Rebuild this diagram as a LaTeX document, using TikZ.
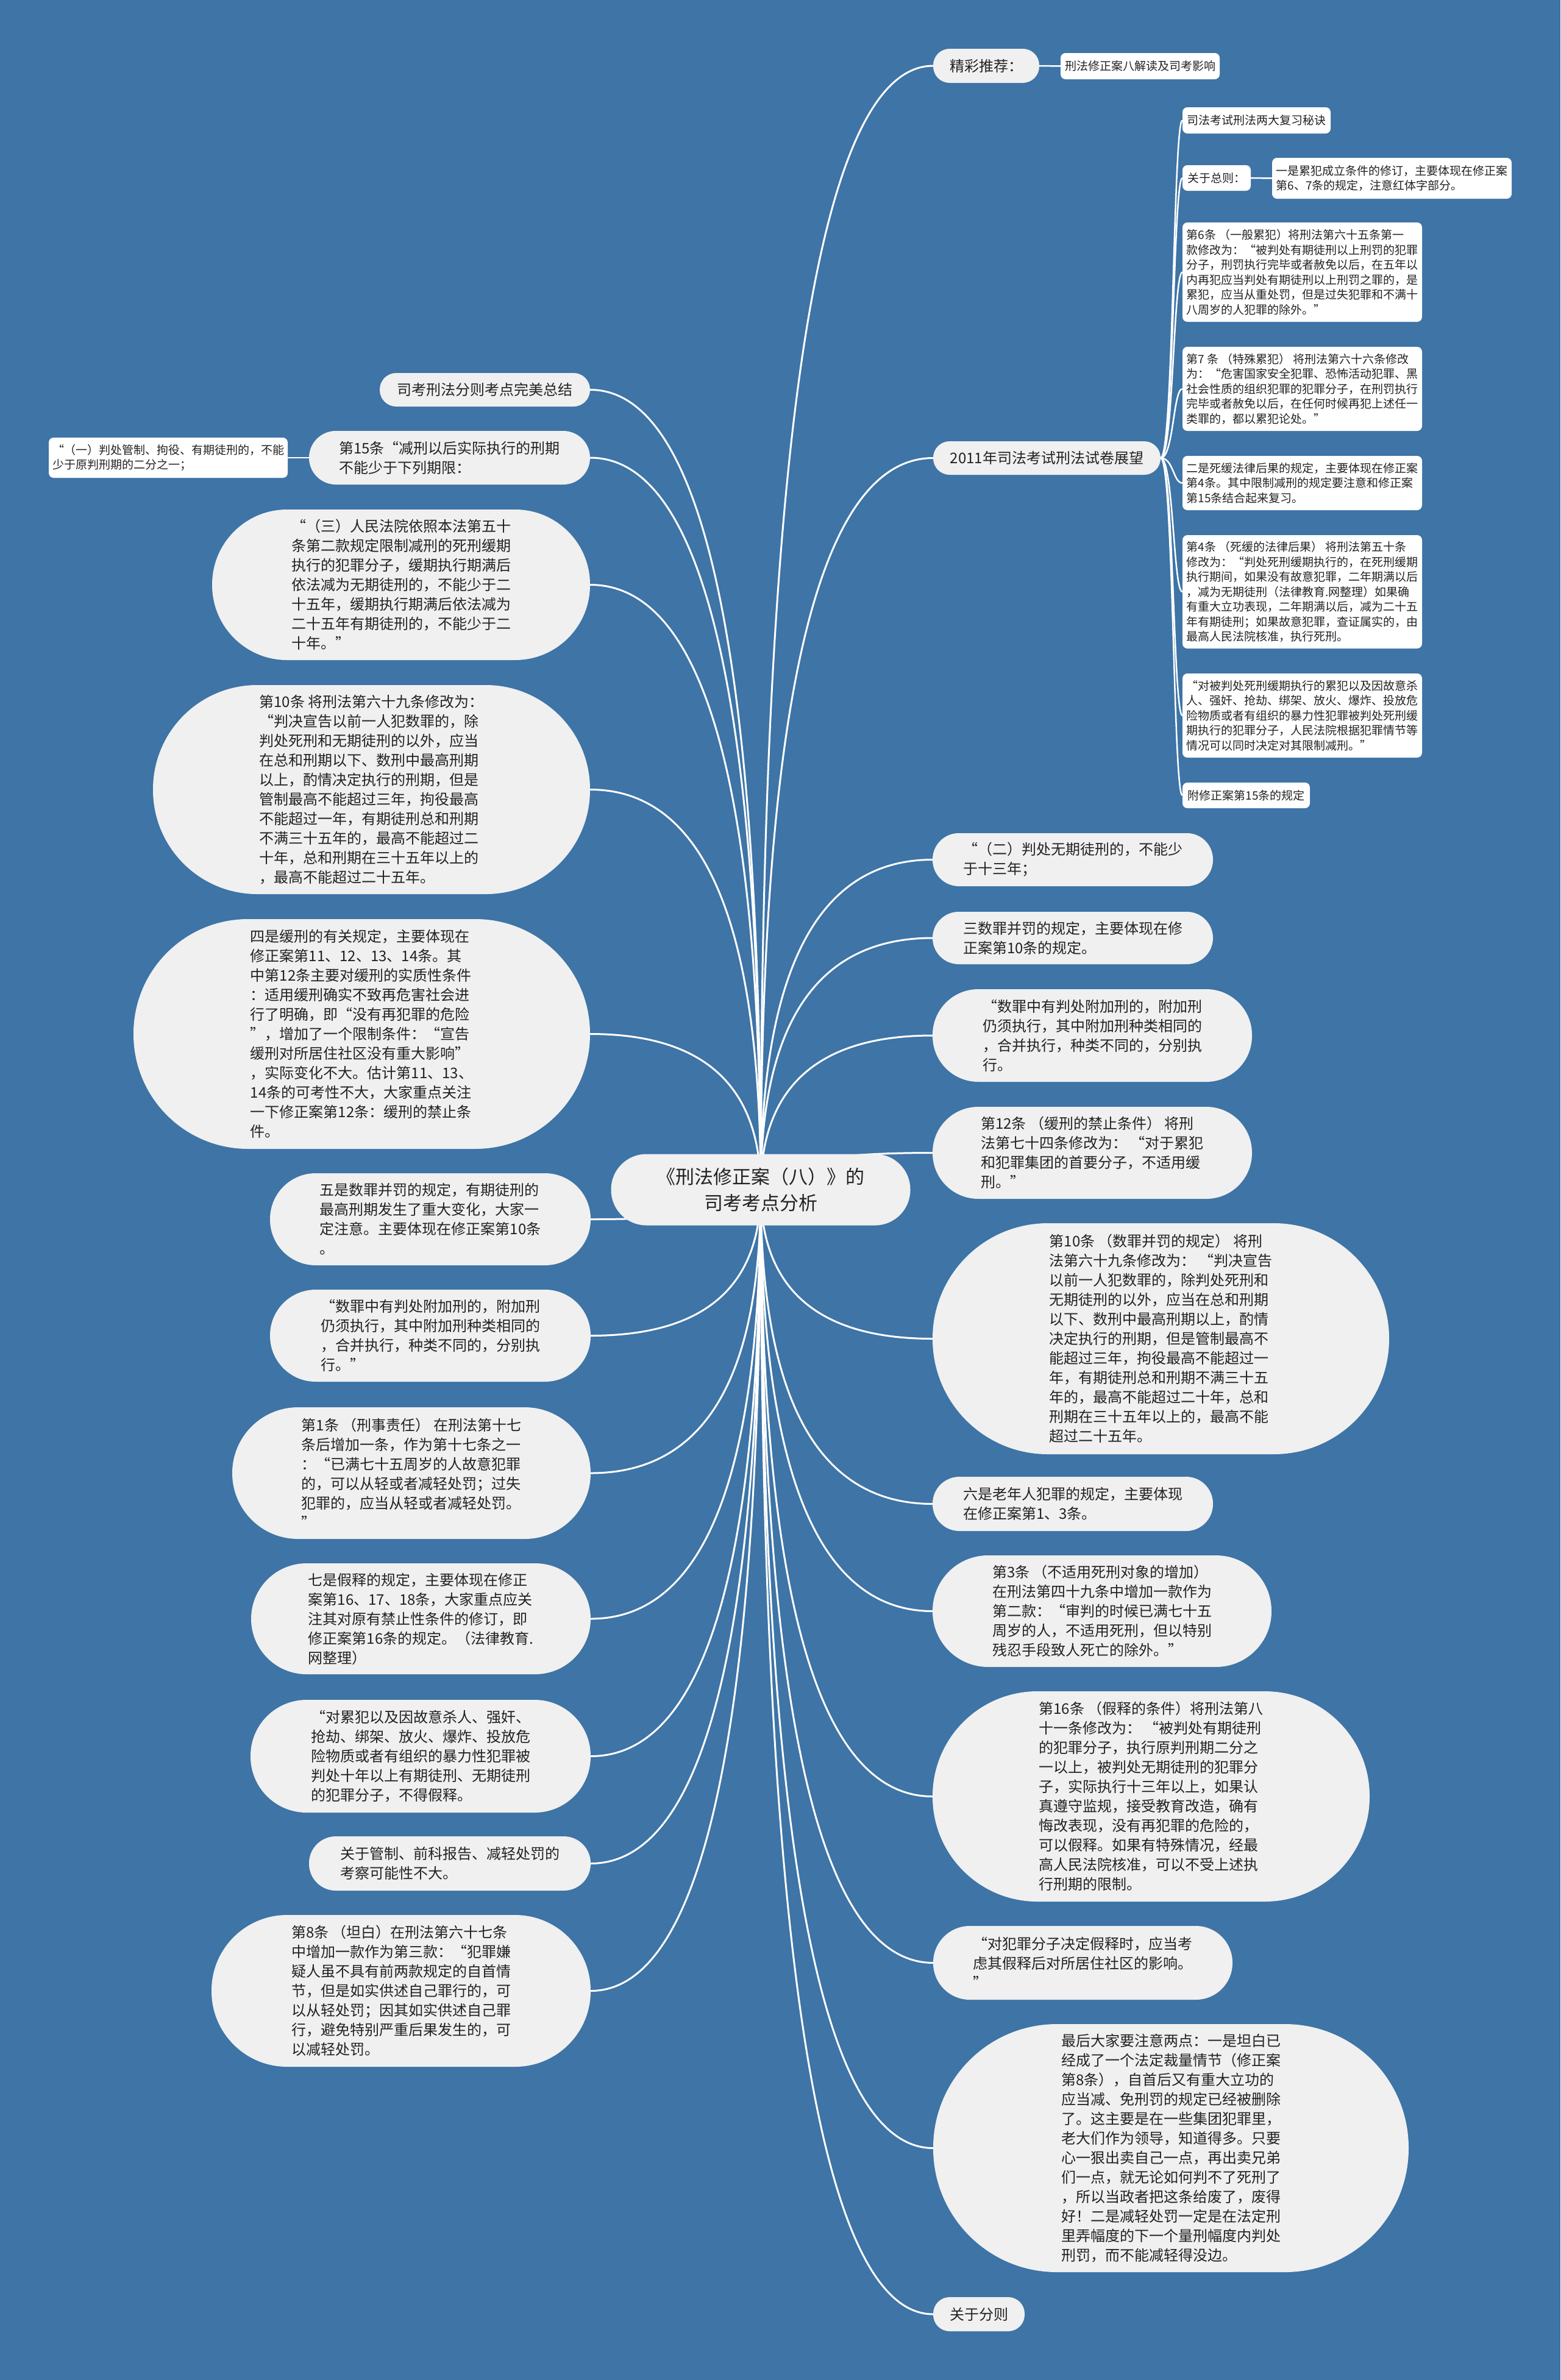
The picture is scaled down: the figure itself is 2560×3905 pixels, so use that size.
\documentclass[tikz,border=0pt]{standalone}
\usepackage{fontspec}
\newfontfamily\cjk{Noto Sans CJK SC}
\usetikzlibrary{calc}
\pgfdeclarelayer{bglayer}
\pgfdeclarelayer{linklayer}
\pgfsetlayers{bglayer,linklayer,main}
\definecolor{bgblue}{RGB}{62,116,166}
\definecolor{lvfill}{RGB}{240,240,240}
\definecolor{txt}{RGB}{34,34,34}
\begin{document}
\begin{tikzpicture}[x=1pt,y=-1pt,
  every node/.style={text=txt, inner sep=0pt},
  rootbox/.style={fill=lvfill, align=center, font=\cjk\fontsize{31}{43}\selectfont},
  lvone/.style={fill=lvfill, align=left, font=\cjk\fontsize{24}{32}\selectfont},
  lvtwo/.style={fill=white, align=left, rounded corners=8pt, font=\cjk\fontsize{19}{24.5}\selectfont},
  mainlink/.style={draw=white, line width=3pt},
  sublink/.style={draw=white, line width=2.5pt}]
\useasboundingbox (0,0) rectangle (2560,3905);
\begin{pgfonlayer}{bglayer}
\fill[bgblue] (0,0) rectangle (2560,3905);
\end{pgfonlayer}

% root
\node[rootbox, minimum width=491pt, minimum height=117pt, rounded corners=58pt] (C) at (1248,1952) {《刑法修正案（八）》的\\司考考点分析};

% right side
\node[lvone, minimum width=174pt, minimum height=56pt, rounded corners=27pt] (R0) at (1618,108) {精彩推荐：};
\node[lvtwo, minimum width=261pt, minimum height=43pt] (R0a) at (1870.5,108.5) {刑法修正案八解读及司考影响};
\node[lvone, minimum width=373pt, minimum height=55pt, rounded corners=27pt] (R1) at (1717.5,751.5) {2011年司法考试刑法试卷展望};
\node[lvtwo, minimum width=243pt, minimum height=43pt] (Ra) at (2061.5,197.5) {司法考试刑法两大复习秘诀};
\node[lvtwo, minimum width=112pt, minimum height=42pt] (Rb) at (1996,292) {关于总则：};
\node[lvtwo, minimum width=393pt, minimum height=67pt] (Rb1) at (2283.5,292.5) {一是累犯成立条件的修订，主要体现在修正案\\第6、7条的规定，注意红体字部分。};
\node[lvtwo, minimum width=393pt, minimum height=163pt] (Rc) at (2136.5,446.5) {第6条 （一般累犯）将刑法第六十五条第一\\款修改为：“被判处有期徒刑以上刑罚的犯罪\\分子，刑罚执行完毕或者赦免以后，在五年以\\内再犯应当判处有期徒刑以上刑罚之罪的，是\\累犯，应当从重处罚，但是过失犯罪和不满十\\八周岁的人犯罪的除外。”};
\node[lvtwo, minimum width=393pt, minimum height=138pt] (Rd) at (2136.5,638) {第7 条 （特殊累犯） 将刑法第六十六条修改\\为：“危害国家安全犯罪、恐怖活动犯罪、黑\\社会性质的组织犯罪的犯罪分子，在刑罚执行\\完毕或者赦免以后，在任何时候再犯上述任一\\类罪的，都以累犯论处。”};
\node[lvtwo, minimum width=393pt, minimum height=89pt] (Re) at (2136.5,792.5) {二是死缓法律后果的规定，主要体现在修正案\\第4条。其中限制减刑的规定要注意和修正案\\第15条结合起来复习。};
\node[lvtwo, minimum width=393pt, minimum height=186pt] (Rf) at (2136.5,971) {第4条 （死缓的法律后果） 将刑法第五十条\\修改为：“判处死刑缓期执行的，在死刑缓期\\执行期间，如果没有故意犯罪，二年期满以后\\，减为无期徒刑（法律教育.网整理）如果确\\有重大立功表现，二年期满以后，减为二十五\\年有期徒刑；如果故意犯罪，查证属实的，由\\最高人民法院核准，执行死刑。};
\node[lvtwo, minimum width=393pt, minimum height=138pt] (Rg) at (2136.5,1174) {“对被判处死刑缓期执行的累犯以及因故意杀\\人、强奸、抢劫、绑架、放火、爆炸、投放危\\险物质或者有组织的暴力性犯罪被判处死刑缓\\期执行的犯罪分子，人民法院根据犯罪情节等\\情况可以同时决定对其限制减刑。”};
\node[lvtwo, minimum width=209pt, minimum height=42pt] (Rh) at (2044.5,1305) {附修正案第15条的规定};

\node[lvone, minimum width=460pt, minimum height=87pt, rounded corners=43pt] (R2) at (1760,1410.5) {“（二）判处无期徒刑的，不能少\\于十三年；};
\node[lvone, minimum width=460pt, minimum height=86pt, rounded corners=43pt] (R3) at (1760,1539) {三数罪并罚的规定，主要体现在修\\正案第10条的规定。};
\node[lvone, minimum width=524pt, minimum height=152pt, rounded corners=75pt] (R4) at (1792,1699) {“数罪中有判处附加刑的，附加刑\\仍须执行，其中附加刑种类相同的\\，合并执行，种类不同的，分别执\\行。};
\node[lvone, minimum width=524pt, minimum height=151pt, rounded corners=75pt] (R5) at (1792,1891.5) {第12条 （缓刑的禁止条件） 将刑\\法第七十四条修改为： “对于累犯\\和犯罪集团的首要分子，不适用缓\\刑。”};
\node[lvone, minimum width=749pt, minimum height=379pt, rounded corners=189pt] (R6) at (1904.5,2196.5) {第10条 （数罪并罚的规定） 将刑\\法第六十九条修改为： “判决宣告\\以前一人犯数罪的，除判处死刑和\\无期徒刑的以外，应当在总和刑期\\以下、数刑中最高刑期以上，酌情\\决定执行的刑期，但是管制最高不\\能超过三年，拘役最高不能超过一\\年，有期徒刑总和刑期不满三十五\\年的，最高不能超过二十年，总和\\刑期在三十五年以上的，最高不能\\超过二十五年。};
\node[lvone, minimum width=460pt, minimum height=89pt, rounded corners=44pt] (R7) at (1760,2467.5) {六是老年人犯罪的规定，主要体现\\在修正案第1、3条。};
\node[lvone, minimum width=556pt, minimum height=183pt, rounded corners=91pt] (R8) at (1808,2643.5) {第3条 （不适用死刑对象的增加）\\在刑法第四十九条中增加一款作为\\第二款：“审判的时候已满七十五\\周岁的人，不适用死刑，但以特别\\残忍手段致人死亡的除外。”};
\node[lvone, minimum width=717pt, minimum height=345pt, rounded corners=172pt] (R9) at (1888.5,2947.5) {第16条 （假释的条件）将刑法第八\\十一条修改为： “被判处有期徒刑\\的犯罪分子，执行原判刑期二分之\\一以上，被判处无期徒刑的犯罪分\\子，实际执行十三年以上，如果认\\真遵守监规，接受教育改造，确有\\悔改表现，没有再犯罪的危险的，\\可以假释。如果有特殊情况，经最\\高人民法院核准，可以不受上述执\\行刑期的限制。};
\node[lvone, minimum width=491pt, minimum height=121pt, rounded corners=60pt] (R10) at (1776.5,3220.5) {“对犯罪分子决定假释时，应当考\\虑其假释后对所居住社区的影响。\\”};
\node[lvone, minimum width=780pt, minimum height=407pt, rounded corners=203pt] (R11) at (1921,3524.5) {最后大家要注意两点：一是坦白已\\经成了一个法定裁量情节（修正案\\第8条），自首后又有重大立功的\\应当减、免刑罚的规定已经被删除\\了。这主要是在一些集团犯罪里，\\老大们作为领导，知道得多。只要\\心一狠出卖自己一点，再出卖兄弟\\们一点，就无论如何判不了死刑了\\，所以当政者把这条给废了，废得\\好！二是减轻处罚一定是在法定刑\\里弄幅度的下一个量刑幅度内判处\\刑罚，而不能减轻得没边。};
\node[lvone, minimum width=150pt, minimum height=56pt, rounded corners=27pt] (R12) at (1606,3797) {关于分则};

% left side
\node[lvone, minimum width=345pt, minimum height=55pt, rounded corners=27pt] (L1) at (795.5,639.5) {司考刑法分则考点完美总结};
\node[lvone, minimum width=461pt, minimum height=88pt, rounded corners=44pt] (L2) at (737.5,751) {第15条“减刑以后实际执行的刑期\\不能少于下列期限：};
\node[lvtwo, minimum width=392pt, minimum height=66pt] (L2a) at (276,751) {“（一）判处管制、拘役、有期徒刑的，不能\\少于原判刑期的二分之一；};
\node[lvone, minimum width=620pt, minimum height=247pt, rounded corners=123pt] (L3) at (658,959.5) {“（三）人民法院依照本法第五十\\条第二款规定限制减刑的死刑缓期\\执行的犯罪分子，缓期执行期满后\\依法减为无期徒刑的，不能少于二\\十五年，缓期执行期满后依法减为\\二十五年有期徒刑的，不能少于二\\十年。”};
\node[lvone, minimum width=717pt, minimum height=343pt, rounded corners=171pt] (L4) at (609.5,1295.5) {第10条 将刑法第六十九条修改为：\\“判决宣告以前一人犯数罪的，除\\判处死刑和无期徒刑的以外，应当\\在总和刑期以下、数刑中最高刑期\\以上，酌情决定执行的刑期，但是\\管制最高不能超过三年，拘役最高\\不能超过一年，有期徒刑总和刑期\\不满三十五年的，最高不能超过二\\十年，总和刑期在三十五年以上的\\，最高不能超过二十五年。};
\node[lvone, minimum width=749pt, minimum height=377pt, rounded corners=188pt] (L5) at (593.5,1696.5) {四是缓刑的有关规定，主要体现在\\修正案第11、12、13、14条。其\\中第12条主要对缓刑的实质性条件\\：适用缓刑确实不致再危害社会进\\行了明确，即“没有再犯罪的危险\\”，增加了一个限制条件：“宣告\\缓刑对所居住社区没有重大影响”\\，实际变化不大。估计第11、13、\\14条的可考性不大，大家重点关注\\一下修正案第12条：缓刑的禁止条\\件。};
\node[lvone, minimum width=526pt, minimum height=151pt, rounded corners=75pt] (L6) at (706,2000.5) {五是数罪并罚的规定，有期徒刑的\\最高刑期发生了重大变化，大家一\\定注意。主要体现在修正案第10条\\。};
\node[lvone, minimum width=526pt, minimum height=151pt, rounded corners=75pt] (L7) at (706,2191.5) {“数罪中有判处附加刑的，附加刑\\仍须执行，其中附加刑种类相同的\\，合并执行，种类不同的，分别执\\行。”};
\node[lvone, minimum width=588pt, minimum height=216pt, rounded corners=108pt] (L8) at (675,2417) {第1条 （刑事责任） 在刑法第十七\\条后增加一条，作为第十七条之一\\：“已满七十五周岁的人故意犯罪\\的，可以从轻或者减轻处罚；过失\\犯罪的，应当从轻或者减轻处罚。\\”};
\node[lvone, minimum width=557pt, minimum height=182pt, rounded corners=91pt] (L9) at (690.5,2656) {七是假释的规定，主要体现在修正\\案第16、17、18条，大家重点应关\\注其对原有禁止性条件的修订，即\\修正案第16条的规定。（法律教育.\\网整理）};
\node[lvone, minimum width=558pt, minimum height=185pt, rounded corners=92pt] (L10) at (690,2881.5) {“对累犯以及因故意杀人、强奸、\\抢劫、绑架、放火、爆炸、投放危\\险物质或者有组织的暴力性犯罪被\\判处十年以上有期徒刑、无期徒刑\\的犯罪分子，不得假释。};
\node[lvone, minimum width=462pt, minimum height=89pt, rounded corners=44pt] (L11) at (738,3057.5) {关于管制、前科报告、减轻处罚的\\考察可能性不大。};
\node[lvone, minimum width=622pt, minimum height=249pt, rounded corners=124pt] (L12) at (658,3266.5) {第8条 （坦白）在刑法第六十七条\\中增加一款作为第三款：“犯罪嫌\\疑人虽不具有前两款规定的自首情\\节，但是如实供述自己罪行的，可\\以从轻处罚；因其如实供述自己罪\\行，避免特别严重后果发生的，可\\以减轻处罚。};

\begin{pgfonlayer}{linklayer}
\foreach \n in {R0,R1,R2,R3,R4,R5,R6,R7,R8,R9,R10,R11,R12}
  \draw[mainlink] (C.center) .. controls ($(C.center)!0.667!(C.center|-\n.west)$) and ($(\n.west)!0.667!(C.center|-\n.west)$) .. (\n.west);
\foreach \n in {L1,L2,L3,L4,L5,L6,L7,L8,L9,L10,L11,L12}
  \draw[mainlink] (C.center) .. controls ($(C.center)!0.667!(C.center|-\n.east)$) and ($(\n.east)!0.667!(C.center|-\n.east)$) .. (\n.east);
\foreach \n in {Ra,Rb,Rc,Rd,Re,Rf,Rg,Rh}
  \draw[sublink] (R1.east) .. controls ([xshift=21pt]R1.east) and ([xshift=-15pt]\n.west) .. (\n.west);
\draw[sublink] (R0.east) -- (R0a.west);
\draw[sublink] (Rb.east) -- (Rb1.west);
\draw[sublink] (L2.west) -- (L2a.east);
\end{pgfonlayer}
\end{tikzpicture}
\end{document}
